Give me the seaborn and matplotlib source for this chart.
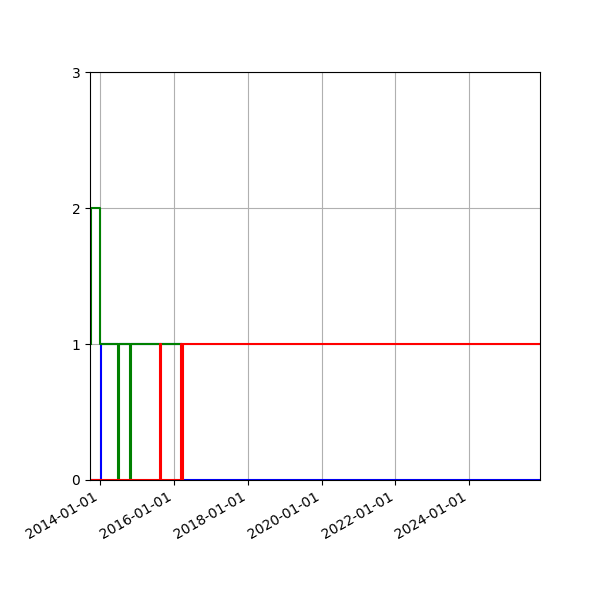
import numpy as np
import pandas as pd
import matplotlib
matplotlib.use("Agg")
import matplotlib.pyplot as plt
import matplotlib.dates as mdates
import seaborn as sns

# step series (drawn with steps-post)
blue_dates = ["2013-09-22", "2014-01-05", "2016-03-22", "2025-12-01"]
blue_values = [0, 1, 0, 0]

green_dates = ["2013-10-03", "2013-10-04", "2014-01-03", "2014-06-25",
               "2014-07-03", "2014-10-21", "2014-10-29", "2016-03-18"]
green_values = [1, 2, 1, 0, 1, 0, 1, 1]

red_dates = ["2013-09-22", "2015-08-15", "2015-08-23", "2016-03-14",
             "2016-03-20", "2016-03-28", "2025-12-01"]
red_values = [0, 1, 0, 1, 0, 1, 1]

x_limits = ["2013-09-22", "2025-12-01"]
y_ticks = [0, 1, 2, 3]

series = [
    (blue_dates, blue_values, "b"),
    (green_dates, green_values, "g"),
    (red_dates, red_values, "r"),
]

fig, ax = plt.subplots(figsize=(6, 6), dpi=100)

for dates, values, color in series:
    df = pd.DataFrame({"date": pd.to_datetime(dates), "value": values})
    sns.lineplot(data=df, x="date", y="value", ax=ax, color=color,
                 drawstyle="steps-post", estimator=None, sort=False,
                 linewidth=1.5)

ax.set_xlim(pd.to_datetime(x_limits[0]), pd.to_datetime(x_limits[1]))
ax.set_ylim(0, 3)
ax.set_yticks(y_ticks)
ax.xaxis.set_major_locator(mdates.YearLocator(2))
ax.xaxis.set_major_formatter(mdates.DateFormatter("%Y-%m-%d"))
ax.grid(True)
ax.set_xlabel("")
ax.set_ylabel("")

fig.autofmt_xdate()
fig.subplots_adjust(left=0.15, right=0.9, top=0.88, bottom=0.2)
fig.savefig("out.png", dpi=100)
